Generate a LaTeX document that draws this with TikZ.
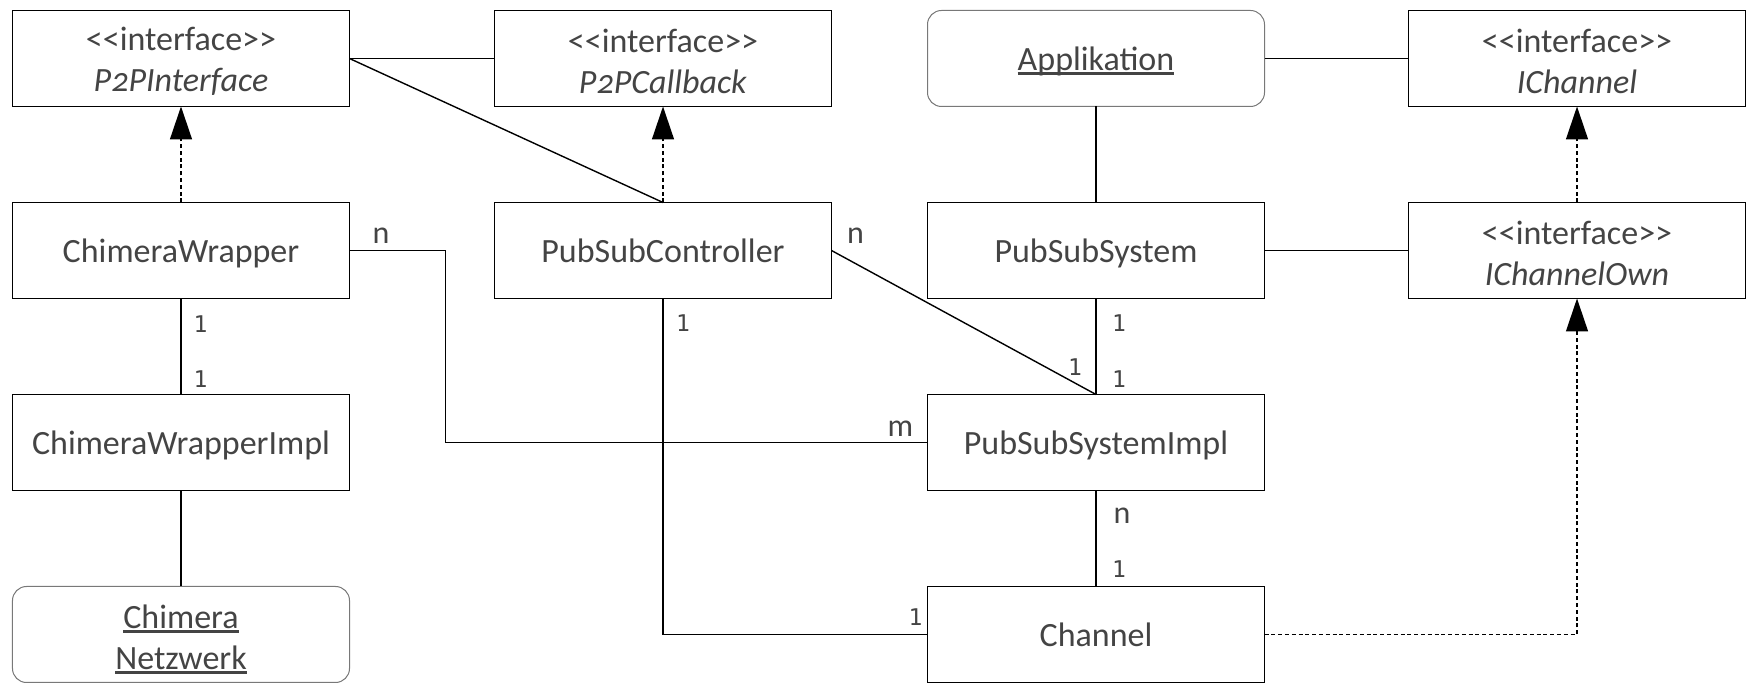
\documentclass[tikz,border=0pt]{standalone}
\usepackage{fontspec}
\setmainfont{Carlito}[Numbers=OldStyle]
\newfontfamily\multfont{DejaVu Sans Mono}
\usetikzlibrary{positioning,calc,arrows.meta}
\definecolor{txtgray}{RGB}{68,68,68}
\definecolor{bordergray}{RGB}{120,120,120}
\newcommand\objul[1]{\setbox0\hbox{#1}\leavevmode\rlap{\copy0}\rule[-2.3pt]{\wd0}{1.5pt}}
\newcommand\stereo{\rule{0pt}{14.2pt}<{}<interface>{}>}

\begin{document}
\begin{tikzpicture}[
    node distance=48pt and 72.5pt,
    umlbox/.style={rectangle, draw=black, line width=0.5pt, minimum width=168.5pt, minimum height=48pt, inner sep=0pt, outer sep=0pt, text=txtgray, font=\fontsize{17pt}{20.5pt}\selectfont},
    oneline/.style={text height=12.2pt, text depth=0pt},
    cls/.style={umlbox, oneline},
    iface/.style={umlbox, align=center},
    objbox/.style={umlbox, draw=bordergray, rounded corners=7pt},
    mult/.style={font=\multfont\fontsize{11.5pt}{13pt}\selectfont, text=txtgray, inner sep=0pt},
    card/.style={font=\fontsize{16pt}{18pt}\selectfont, text=txtgray, inner sep=0pt},
    assoc/.style={line width=0.7pt},
    real/.style={line width=0.7pt, dash pattern=on 2pt off 1.4pt, -{Triangle[length=16.5pt, width=11pt]}}
]

\node[iface] (p2pif) {\stereo\\\textit{P2PInterface}};
\node[iface, right=of p2pif] (p2pcb) {\stereo\\\textit{P2PCallback}};
\node[objbox, oneline, right=48pt of p2pcb] (app) {\objul{Applikation}};
\node[iface, right=72pt of app] (ichan) {\stereo\\\textit{IChannel}};

\node[cls, below=of p2pif] (wrap) {ChimeraWrapper};
\node[cls, below=of p2pcb] (ctrl) {PubSubController};
\node[cls, below=of app] (sys) {PubSubSystem};
\node[iface, below=of ichan] (ichown) {\stereo\\\textit{IChannelOwn}};

\node[cls, below=of wrap] (wrapimpl) {ChimeraWrapperImpl};
\node[cls, below=of sys] (sysimpl) {PubSubSystemImpl};

\node[objbox, align=center, below=of wrapimpl] (netz) {\rule{0pt}{16.5pt}\objul{Chimera}\\\objul{Netzwerk}};
\node[cls, below=of sysimpl] (chan) {Channel};

\useasboundingbox ($(p2pif.north west)+(-6.25pt,5.25pt)$) rectangle ++(875.5pt,-349.5pt);

\draw[assoc] (p2pif.east) -- (p2pcb.west);
\draw[assoc] (p2pif.east) -- (ctrl.north);
\draw[assoc] (app.east) -- (ichan.west);
\draw[assoc] (app) -- (sys);
\draw[assoc] (sys.east) -- (ichown.west);

\draw[real] (wrap) -- (p2pif);
\draw[real] (ctrl) -- (p2pcb);
\draw[real] (ichown) -- (ichan);
\draw[real] (chan.east) -| (ichown.south);

\draw[assoc] (wrap) -- node[mult, at start, xshift=9.75pt, yshift=-12.75pt] (c1) {1} node[mult, at end, xshift=9.75pt, yshift=7.5pt] (c2) {1} (wrapimpl);
\draw[assoc] (wrapimpl) -- (netz);
\draw[assoc] (wrap.east) -- node[card, at start, xshift=15.75pt, yshift=7.5pt] (c3) {n} ++(48pt,0) |- node[card, at end, xshift=-13.5pt, yshift=7pt] (c4) {m} (sysimpl.west);
\draw[assoc] (ctrl.east) -- node[card, at start, xshift=12pt, yshift=7.5pt] (c5) {n} node[mult, at end, xshift=-10.5pt, yshift=13.5pt] (c6) {1} (sysimpl.north);
\draw[assoc] (sys) -- node[mult, at start, xshift=11.5pt, yshift=-12.5pt] (c7) {1} node[mult, at end, xshift=11.5pt, yshift=7.5pt] (c8) {1} (sysimpl);
\draw[assoc] (sysimpl) -- node[card, at start, xshift=13pt, yshift=-12.5pt] (c9) {n} node[mult, at end, xshift=11.5pt, yshift=8.5pt] (c10) {1} (chan);
\draw[assoc] (ctrl.south) |- node[mult, at start, xshift=10pt, yshift=-12.5pt] (c11) {1} node[mult, at end, xshift=-6pt, yshift=8.5pt] (c12) {1} (chan.west);

\end{tikzpicture}
\end{document}
